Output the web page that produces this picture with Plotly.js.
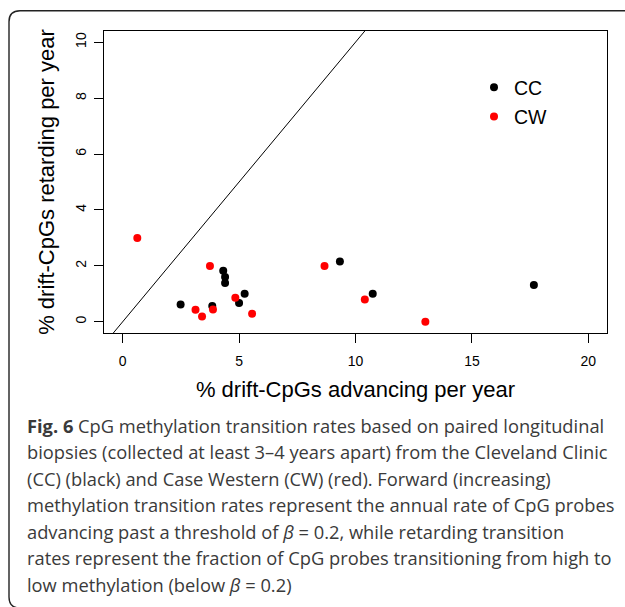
<!DOCTYPE html>
<html><head><meta charset="utf-8">
<script src="https://cdn.plot.ly/plotly-3.0.1.min.js"></script>
<style>html,body{margin:0;padding:0;background:#fff;}</style>
</head><body><div id="chart" style="width:625px;height:607px;"></div>
<script>
// ---- data ----
const ccAdvancing = [2.49, 3.85, 4.32, 4.40, 4.40, 5.00, 5.24, 9.33, 10.74, 17.66];
const ccRetarding = [0.62, 0.57, 1.83, 1.60, 1.39, 0.67, 1.00, 2.16, 1.00, 1.32];
const cwAdvancing = [0.63, 3.13, 3.41, 3.75, 3.88, 4.84, 5.56, 8.67, 10.40, 13.00];
const cwRetarding = [3.00, 0.43, 0.19, 2.00, 0.44, 0.86, 0.29, 2.00, 0.80, 0.00];
const identityX = [-1, 11];
const identityY = [-1, 11];
const seriesNames = ["CC", "CW"];
const xTickVals = [0, 5, 10, 15, 20];
const yTickVals = [0, 2, 4, 6, 8, 10];
const xTitle = "% drift-CpGs advancing per year";
const yTitle = "% drift-CpGs retarding per year";
const captionLines = [
  "<b>Fig. 6</b> CpG methylation transition rates based on paired longitudinal",
  "biopsies (collected at least 3–4 years apart) from the Cleveland Clinic",
  "(CC) (black) and Case Western (CW) (red). Forward (increasing)",
  "methylation transition rates represent the annual rate of CpG probes",
  "advancing past a threshold of <i>β</i> = 0.2, while retarding transition",
  "rates represent the fraction of CpG probes transitioning from high to",
  "low methylation (below <i>β</i> = 0.2)"
];

// ---- layout geometry (pixels) ----
const W = 625, H = 607;
const M = {l: 104, r: 18, t: 31, b: 274};
const PW = W - M.l - M.r, PH = H - M.t - M.b;
const px2x = p => (p - M.l) / PW;
const py2y = p => (H - M.b - p) / PH;

const sans = "Liberation Sans, Arial, Helvetica, sans-serif";
const capFont = "Open Sans, Noto Sans, sans-serif";

const traces = [
  {x: identityX, y: identityY, mode: "lines", line: {color: "#000", width: 1},
   showlegend: false, hoverinfo: "skip"},
  {x: ccAdvancing, y: ccRetarding, mode: "markers", name: seriesNames[0],
   legendgroup: "a", marker: {color: "#000000", size: 8}},
  {x: cwAdvancing, y: cwRetarding, mode: "markers", name: seriesNames[1],
   legendgroup: "b", marker: {color: "#ff0000", size: 8}}
];

const capStart = 425, capStep = 26.5;
const annotations = captionLines.map((t, i) => ({
  text: t, xref: "paper", yref: "paper", x: px2x(25), y: py2y(capStart + i * capStep),
  xanchor: "left", yanchor: "middle", showarrow: false, align: "left",
  font: {family: capFont, size: 18.3, color: "#3a3a3a"}
}));

const bx0 = 9, by0 = 10.7, bx1 = 640, by1 = 608, rr = 11;
const P = (x, y) => px2x(x) + "," + py2y(y);
const borderPath = "M" + P(bx1, by1) + " L" + P(bx0 + rr, by1) + " Q" + P(bx0, by1) + " " + P(bx0, by1 - rr) +
  " L" + P(bx0, by0 + rr) + " Q" + P(bx0, by0) + " " + P(bx0 + rr, by0) + " L" + P(bx1, by0);

const layout = {
  width: W, height: H, margin: M,
  paper_bgcolor: "#fff", plot_bgcolor: "#fff",
  font: {family: sans, color: "#000"},
  showlegend: true,
  legend: {x: px2x(474), y: py2y(68), xanchor: "left", yanchor: "top",
           font: {family: sans, size: 19.5, color: "#000"}, bgcolor: "rgba(0,0,0,0)",
           traceorder: "grouped", tracegroupgap: 1},
  xaxis: {range: [-0.8, 20.8], tickvals: xTickVals, ticks: "outside", ticklen: 9,
          tickcolor: "#000", tickwidth: 1, showline: true, mirror: true, linecolor: "#000",
          linewidth: 1, showgrid: false, zeroline: false, ticklabelstandoff: 6,
          tickfont: {family: sans, size: 14, color: "#000"},
          title: {text: xTitle, font: {family: sans, size: 22, color: "#000"}, standoff: 13}},
  yaxis: {range: [-0.4, 10.4], tickvals: yTickVals, ticks: "outside", ticklen: 9,
          tickcolor: "#000", tickwidth: 1, showline: true, mirror: true, linecolor: "#000",
          linewidth: 1, showgrid: false, zeroline: false, tickangle: -90, ticklabelstandoff: 2,
          tickfont: {family: sans, size: 14, color: "#000"},
          title: {text: yTitle, font: {family: sans, size: 22, color: "#000"}, standoff: 12}},
  shapes: [{type: "path", xref: "paper", yref: "paper", path: borderPath,
            line: {color: "#222", width: 1.4}, layer: "above"}],
  annotations: annotations
};

Plotly.newPlot("chart", traces, layout, {staticPlot: true, displayModeBar: false});
</script></body></html>
